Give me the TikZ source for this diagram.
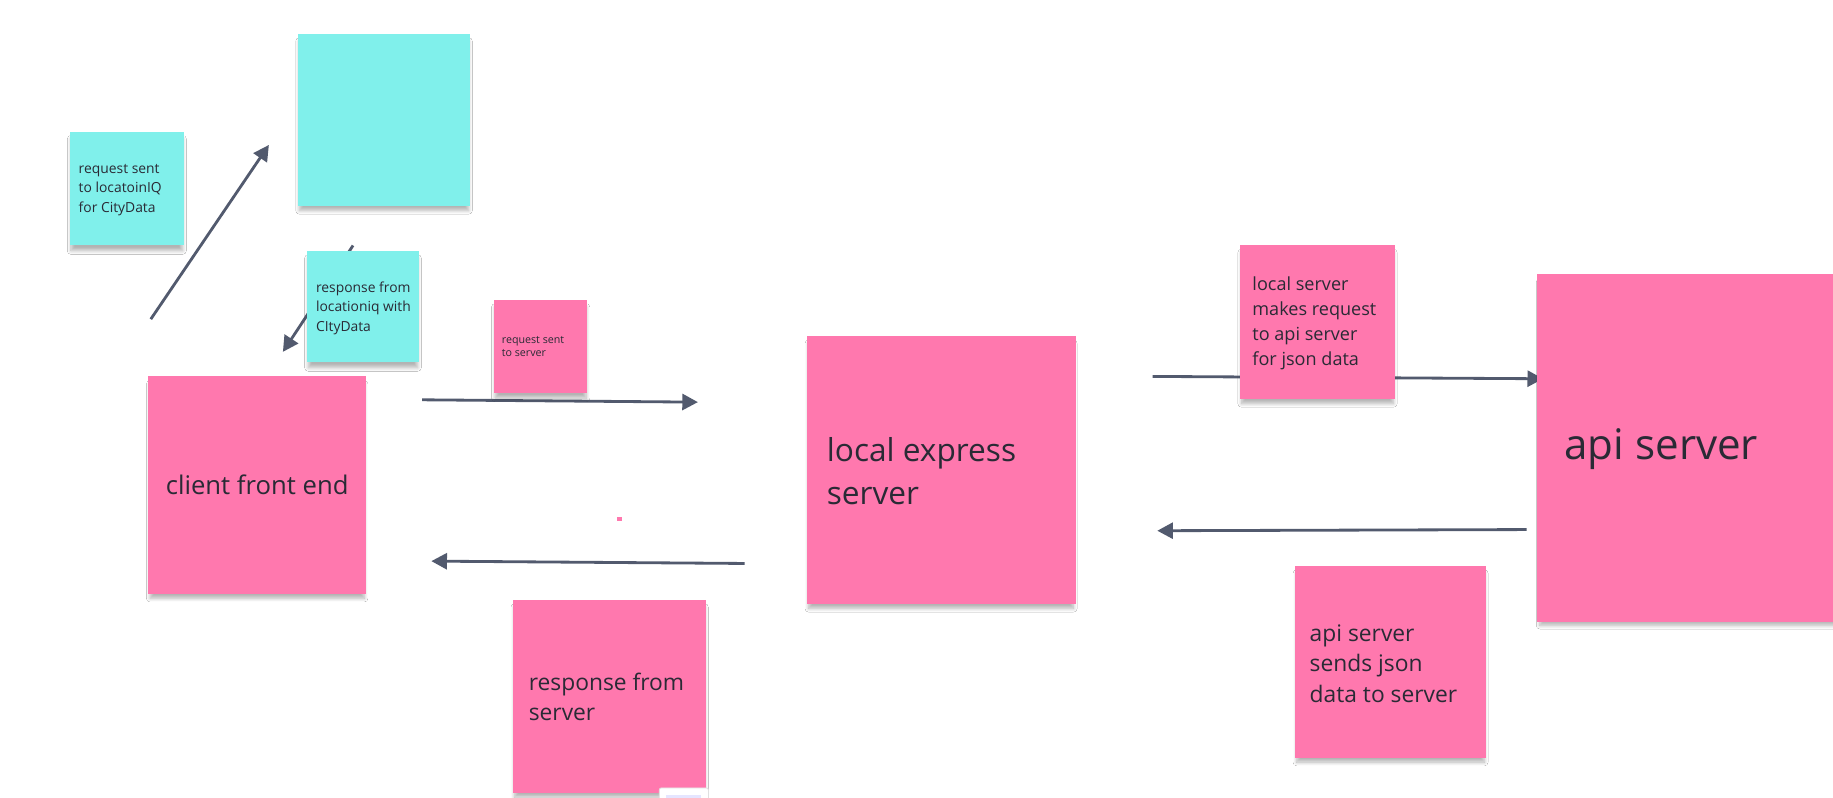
\documentclass[tikz,border=0pt]{standalone}
\usepackage{fontspec}
\setmainfont{Open Sans}
\usetikzlibrary{arrows.meta,shadows.blur}
\definecolor{pk}{HTML}{FF78AE}
\definecolor{cy}{HTML}{80F0EB}
\definecolor{ar}{HTML}{525A6E}
\definecolor{tx}{HTML}{2A2A35}
\newdimen\un \un=0.02cm
\newcommand\fsz[2]{\fontsize{#1pt}{#2pt}\selectfont}
\begin{document}
\begin{tikzpicture}[x=0.02cm,y=-0.02cm,
  note/.style={draw=none, outer sep=0pt, inner sep=0pt,
    blur shadow={shadow xshift=0pt, shadow yshift=-3pt, shadow scale=0.985, shadow blur radius=1.8pt, shadow blur steps=8, shadow opacity=30}},
  txt/.style={anchor=west, inner sep=0pt, align=left, text=tx},
  conn/.style={draw=ar, line width=1.37pt, -{Triangle[length=7.6pt, width=7.8pt]}}]
\useasboundingbox[fill=white] (0,0) rectangle (1568,682);
\begin{scope}
\clip (0,0) rectangle (1568,682);
% connectors (behind notes)
\coordinate (a1s) at (129,273); \coordinate (a1e) at (230,124);
\coordinate (a2s) at (302,210); \coordinate (a2e) at (242,301);
\coordinate (a3s) at (361,342); \coordinate (a3e) at (597,344);
\coordinate (a4s) at (637,482); \coordinate (a4e) at (369,480);
\coordinate (a5s) at (986,322); \coordinate (a5e) at (1320,324);
\coordinate (a6s) at (1306,453); \coordinate (a6e) at (990,454);
\draw[conn] (a1s) -- (a1e);
\draw[conn] (a2s) -- (a2e);
\draw[conn] (a3s) -- (a3e);
\draw[conn] (a4s) -- (a4e);
\draw[conn] (a5s) -- (a5e);
\draw[conn] (a6s) -- (a6e);
% notes
\node[note, fill=cy, minimum width=97\un, minimum height=97\un] (req1) at (108.5,161.5) {};
\node[txt, font=\fsz{6.75}{9.4}] (req1t) at ([xshift=3.98pt, yshift=-0.5pt]req1.west) {request sent\\to locatoinIQ\\for CityData};
\node[note, fill=cy, minimum width=147\un, minimum height=147\un] (big) at (328.5,102.5) {};
\node[note, fill=cy, minimum width=95\un, minimum height=95\un] (resp1) at (310.5,262.5) {};
\node[txt, font=\fsz{6.75}{9.4}] (resp1t) at ([xshift=3.98pt, yshift=-0.6pt]resp1.west) {response from\\locationiq with\\CItyData};
\node[note, fill=pk, minimum width=79\un, minimum height=79\un] (req2) at (462.5,296.5) {};
\node[txt, font=\fsz{5.2}{6.3}] (req2t) at ([xshift=3.41pt]req2.west) {request sent\\to server};
\node[note, fill=pk, minimum width=186\un, minimum height=186\un] (client) at (220,415) {};
\node[txt, anchor=center, font=\fsz{12.5}{15}] (clientt) at (client.center) {client front end};
\node[note, fill=pk, minimum width=230\un, minimum height=230\un] (local) at (805,402) {};
\node[txt, font=\fsz{15.4}{21.1}] (localt) at ([xshift=9.67pt, yshift=-0.5pt]local.west) {local express\\server};
\node[note, fill=pk, minimum width=132\un, minimum height=131\un] (lreq) at (1127,275.5) {};
\node[txt, font=\fsz{8.8}{12.2}] (lreqt) at ([xshift=5.69pt, yshift=-0.8pt]lreq.west) {local server\\makes request\\to api server\\for json data};
\node[note, fill=pk, minimum width=300\un, minimum height=298\un] (api) at (1465,383) {};
\node[txt, font=\fsz{20.5}{25}] (apit) at ([xshift=13.09pt, yshift=-0.6pt]api.west) {api server};
\node[note, fill=pk, minimum width=163\un, minimum height=164\un] (asend) at (1189.5,566) {};
\node[txt, font=\fsz{11.1}{14.8}] (asendt) at ([xshift=6.83pt, yshift=-1pt]asend.west) {api server\\sends json\\data to server};
\node[note, fill=pk, minimum width=165\un, minimum height=165\un] (resp2) at (521.5,595.5) {};
\node[txt, font=\fsz{11.1}{14.8}] (resp2t) at ([xshift=7.4pt, yshift=-0.3pt]resp2.west) {response from\\server};
% small marks
\fill[pk] (528,442) rectangle (532,446);
\draw[draw=black!12, fill=white, rounded corners=1pt] (564,674) rectangle (606,690);
\fill[blue!10] (570,680) rectangle (600,684);
\end{scope}
\end{tikzpicture}
\end{document}
